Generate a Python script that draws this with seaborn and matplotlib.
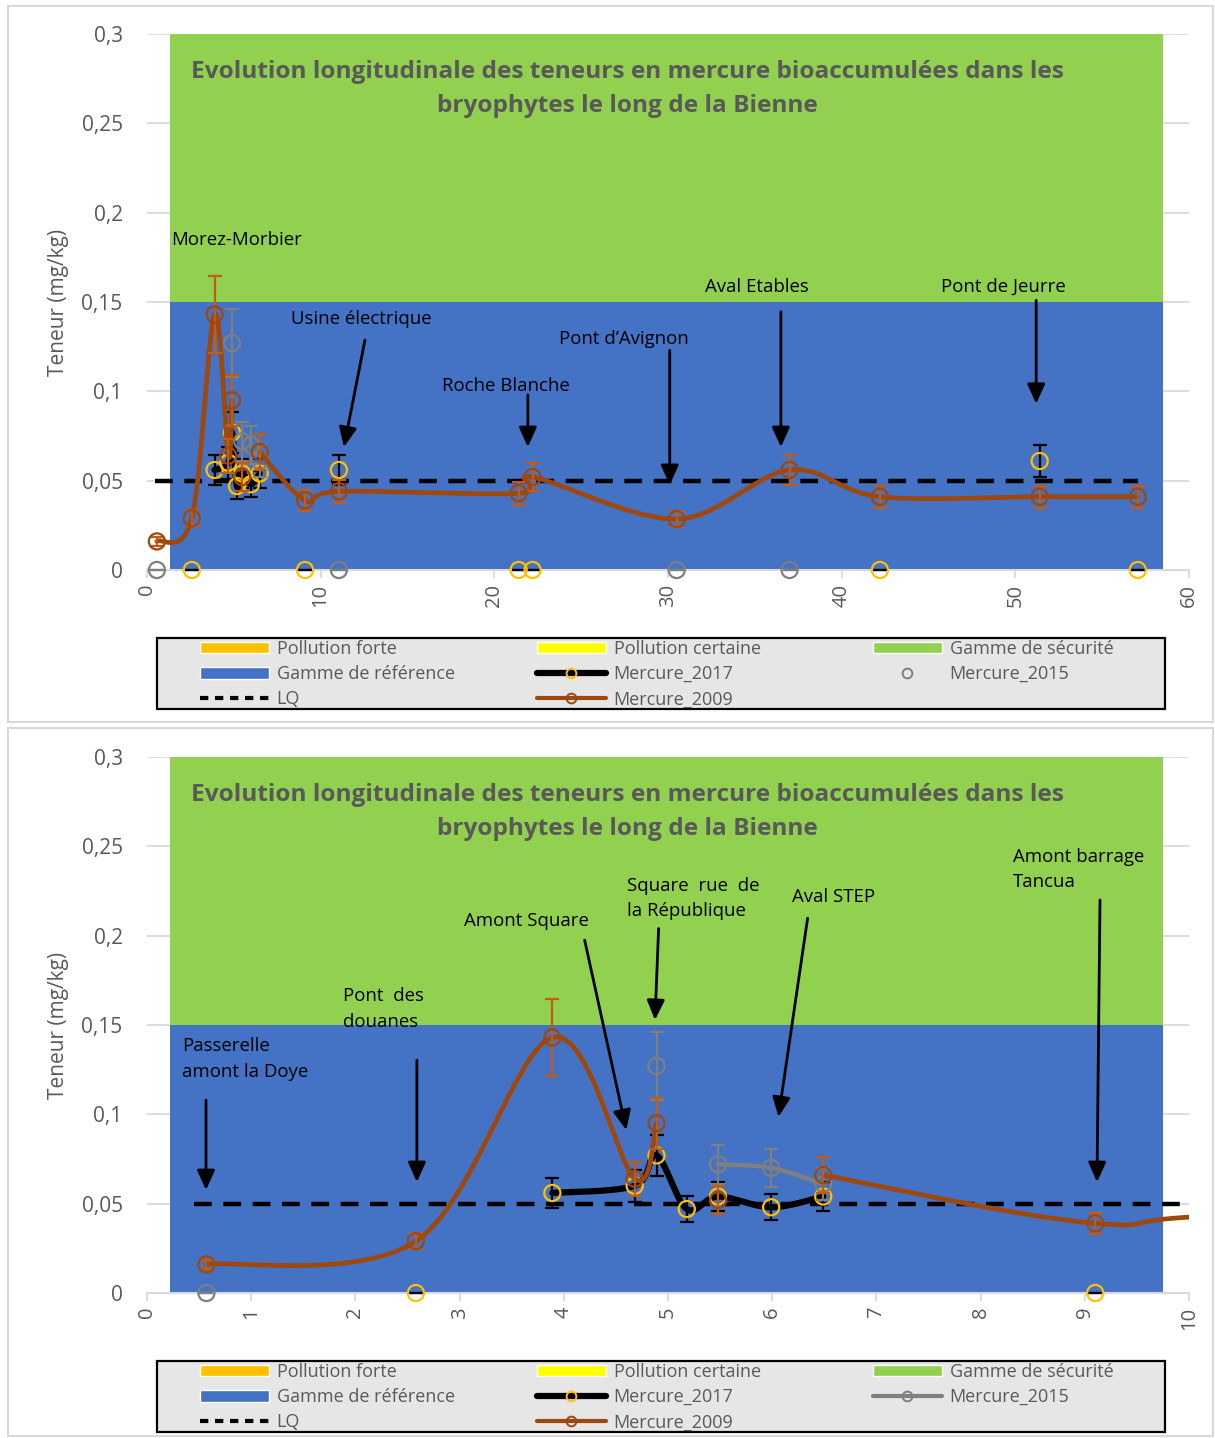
import numpy as np
import pandas as pd
import seaborn as sns
import matplotlib
matplotlib.use("Agg")
import matplotlib.pyplot as plt
import matplotlib.ticker as mticker
from matplotlib.patches import Patch, Rectangle
from matplotlib.lines import Line2D

# stations (distance, km) and mercury contents (mg/kg); nan = no sample, 0 = < LQ
STATIONS_KM = [0.57, 2.58, 3.89, 4.68, 4.89, 5.18, 5.48, 5.99, 6.49, 9.1,
               11.05, 21.4, 22.2, 30.5, 37.0, 42.2, 51.4, 57.05]
HG_2009 = [0.016, 0.029, 0.143, 0.064, 0.095, np.nan, 0.052, np.nan, 0.066, 0.039,
           0.044, 0.043, 0.052, 0.0285, 0.056, 0.041, 0.041, 0.041]
HG_2017 = [np.nan, 0, 0.056, 0.060, 0.077, 0.047, 0.054, 0.048, 0.054, 0,
           0.056, 0, 0, np.nan, np.nan, 0, 0.061, 0]
HG_2015 = [0, np.nan, np.nan, np.nan, 0.127, np.nan, 0.072, 0.070, 0.061, np.nan,
           0, np.nan, np.nan, 0, 0, np.nan, np.nan, np.nan]
ERR_FRAC = 0.15

LQ_KM = [0.45, 57.05]
LQ_VALUE = 0.05
REF_RANGE = (0.0, 0.15)
SECU_RANGE = (0.15, 0.3)

TITLE = ("Evolution longitudinale des teneurs en mercure bioaccumulées dans les\n"
         "bryophytes le long de la Bienne")

# (text, text position, arrow tail, arrow tip)
LABELS_TOP = [
    ("Morez-Morbier", (1.38, 0.1898), None, None),
    ("Usine électrique", (8.29, 0.1456), (12.55, 0.1287), (11.34, 0.0688)),
    ("Roche Blanche", (16.98, 0.1081), (21.93, 0.098), (21.93, 0.0688)),
    ("Pont d\u2019Avignon", (23.72, 0.1344), (30.1, 0.123), (30.1, 0.0476)),
    ("Aval Etables", (32.12, 0.1635), (36.5, 0.1445), (36.5, 0.0688)),
    ("Pont de Jeurre", (45.71, 0.1635), (51.2, 0.151), (51.2, 0.093)),
]
LABELS_BOTTOM = [
    ("Passerelle\namont la Doye", (0.336, 0.1431), (0.566, 0.108), (0.566, 0.0576)),
    ("Pont  des\ndouanes", (1.88, 0.1712), (2.59, 0.1304), (2.59, 0.0621)),
    ("Amont Square", (3.04, 0.2135), (4.20, 0.1975), (4.60, 0.0912)),
    ("Square  rue  de\nla République", (4.607, 0.2331), (4.91, 0.204), (4.875, 0.1528)),
    ("Aval STEP", (6.19, 0.2265), (6.34, 0.2098), (6.06, 0.0985)),
    ("Amont barrage\nTancua", (8.31, 0.2492), (9.146, 0.22), (9.117, 0.0621)),
]

BLUE = "#4472C4"
GREEN = "#92D050"
ORANGE = "#FFC000"
YELLOW = "#FFFF00"
BROWN = "#9E480E"
BROWN_ERR = "#C55A11"
GREY = "#7F7F7F"
TXT = "#595959"

W_PX, H_PX = 1042, 536


def smooth(x, y, sx, sy, n=40):
    # Excel-like smoothed line (bezier through points, computed in pixel space)
    P = np.column_stack([np.asarray(x) * sx, np.asarray(y) * sy])
    segs = []
    for i in range(len(P) - 1):
        p0 = P[i - 1] if i > 0 else P[i]
        p1, p2 = P[i], P[i + 1]
        p3 = P[i + 2] if i + 2 < len(P) else P[i + 1]
        c1 = p1 + (p2 - p0) / 6
        c2 = p2 - (p3 - p1) / 6
        t = np.linspace(0, 1, n)[:, None]
        segs.append((1 - t) ** 3 * p1 + 3 * (1 - t) ** 2 * t * c1
                    + 3 * (1 - t) * t ** 2 * c2 + t ** 3 * p2)
    seg = np.vstack(segs)
    return seg[:, 0] / sx, seg[:, 1] / sy


def draw_series(ax, df, col, line_color, line_w, mk_color, err_color, xmax, draw_line=True, z=4):
    sub = df[["km", col]].dropna()
    sx, sy = W_PX / xmax, H_PX / 0.3
    if draw_line:
        # lines break on missing values and on values below LQ (0)
        vals = df[col].where(df[col] > 0)
        run = []
        for km, v in list(zip(df["km"], vals)) + [(None, np.nan)]:
            if np.isnan(v):
                if len(run) > 1:
                    xs, ys = smooth(*zip(*run), sx, sy)
                    ax.plot(xs, ys, color=line_color, lw=line_w, zorder=z, solid_capstyle="round")
                run = []
            else:
                run.append((km, v))
    vis = sub[sub["km"] <= xmax]
    ax.errorbar(vis["km"], vis[col], yerr=ERR_FRAC * vis[col], fmt="none",
                ecolor=err_color, elinewidth=1.6, capsize=5, capthick=1.6,
                zorder=z + 0.1, clip_on=False)
    sns.scatterplot(x=vis["km"].values, y=vis[col].values, ax=ax, marker="o", s=135,
                    color=mk_color, zorder=z + 0.2, clip_on=False, legend=False)
    pts = ax.collections[-1]
    pts.set_facecolor("none")
    pts.set_edgecolor(mk_color)
    pts.set_linewidth(1.6)


def draw_chart(ax, xmax, xstep, labels, line_2015):
    ax.set_xlim(0, xmax)
    ax.set_ylim(0, 0.3)
    ax.set_axisbelow(True)
    ax.grid(axis="y", color="#D9D9D9", lw=1.3)
    ax.grid(axis="x", visible=False)
    for s in ["top", "right", "left"]:
        ax.spines[s].set_visible(False)
    ax.spines["bottom"].set_color("#D9D9D9")
    ax.spines["bottom"].set_linewidth(1.5)
    ax.set_facecolor("white")

    # background ranges
    ax.axhspan(*REF_RANGE, xmin=0.022, xmax=0.975, color=BLUE, lw=0, zorder=1)
    ax.axhspan(*SECU_RANGE, xmin=0.022, xmax=0.975, color=GREEN, lw=0, zorder=1)

    ax.plot(LQ_KM, [LQ_VALUE] * len(LQ_KM), color="black", lw=3.2, ls=(0, (4, 2.6)), zorder=3)

    df = pd.DataFrame({"km": STATIONS_KM, "2009": HG_2009, "2017": HG_2017, "2015": HG_2015})
    draw_series(ax, df, "2017", "black", 4.5, ORANGE, "black", xmax, z=4)
    draw_series(ax, df, "2015", GREY, 3.2, GREY, GREY, xmax, draw_line=line_2015, z=5)
    draw_series(ax, df, "2009", BROWN, 3.4, BROWN, BROWN_ERR, xmax, z=6)

    ax.xaxis.set_major_locator(mticker.MultipleLocator(xstep))
    ax.yaxis.set_major_locator(mticker.MultipleLocator(0.05))
    ax.yaxis.set_major_formatter(mticker.FuncFormatter(lambda v, p: f"{v:g}".replace(".", ",")))
    ax.tick_params(axis="x", rotation=90, labelsize=14.5, labelcolor=TXT, color="#D9D9D9",
                   length=6, width=1.3, pad=4, direction="out", bottom=True)
    ax.tick_params(axis="y", labelsize=15, labelcolor=TXT, length=0, pad=17.5)
    ax.set_ylabel("Teneur (mg/kg)", fontsize=15, color=TXT, labelpad=9)
    ax.set_xlabel("")

    ax.text(0.4607, 0.951, TITLE, transform=ax.transAxes, ha="center", va="top",
            fontsize=17.6, fontweight="bold", color=TXT, linespacing=1.55, zorder=8)

    for text, pos, tail, tip in labels:
        ax.text(pos[0], pos[1], text, ha="left", va="top", fontsize=13.4,
                color="black", linespacing=1.55, zorder=8)
        if tail is not None:
            ax.annotate("", xy=tip, xytext=tail, zorder=8,
                        arrowprops=dict(arrowstyle="-|>,head_length=0.6,head_width=0.27",
                                        mutation_scale=20, color="black", lw=2,
                                        shrinkA=0, shrinkB=0))

    # legend box, then one legend per column
    ax.add_patch(Rectangle(((157 - 147) / W_PX, -(638 - 570) / H_PX - 71 / H_PX),
                           1008 / W_PX, 71 / H_PX, transform=ax.transAxes, clip_on=False,
                           facecolor="#E7E6E6", edgecolor="black", lw=1.6, zorder=2))
    columns = [
        [Patch(facecolor=ORANGE, label="Pollution forte"),
         Patch(facecolor=BLUE, label="Gamme de référence"),
         Line2D([], [], color="black", lw=3, ls=(0, (2, 1.6)), label="LQ")],
        [Patch(facecolor=YELLOW, label="Pollution certaine"),
         Line2D([], [], color="black", lw=4.5, marker="o", mfc="none", mec=ORANGE,
                ms=7, mew=1.4, label="Mercure_2017"),
         Line2D([], [], color=BROWN, lw=3, marker="o", mfc="none", mec=BROWN,
                ms=7, mew=1.4, label="Mercure_2009")],
        [Patch(facecolor=GREEN, label="Gamme de sécurité"),
         Line2D([], [], color=GREY, lw=3 if line_2015 else 0, marker="o", mfc="none",
                mec=GREY, ms=7, mew=1.4, label="Mercure_2015")],
    ]
    col_x = [200, 537, 873]
    for i, (hx, hs) in enumerate(zip(col_x, columns)):
        leg = ax.legend(handles=hs, loc="upper left",
                        bbox_to_anchor=((hx - 147) / W_PX, -(640 - 570) / H_PX),
                        borderaxespad=0, borderpad=0, fontsize=13, handlelength=3.8,
                        handleheight=0.6, handletextpad=0.45, labelspacing=0.4,
                        frameon=False)
        leg.set_zorder(3)
        for t in leg.get_texts():
            t.set_color(TXT)
        if i < len(col_x) - 1:
            ax.add_artist(leg)


sns.set_theme(style="white")
plt.rcParams["font.family"] = ["Open Sans", "DejaVu Sans"]

fig = plt.figure(figsize=(12.15, 14.38), dpi=100)
ax_top = fig.add_axes([147 / 1215, 1 - 570 / 1438, W_PX / 1215, H_PX / 1438])
ax_bot = fig.add_axes([147 / 1215, 1 - 1293 / 1438, W_PX / 1215, H_PX / 1438])

draw_chart(ax_top, 60, 10, LABELS_TOP, line_2015=False)
draw_chart(ax_bot, 10, 1, LABELS_BOTTOM, line_2015=True)

# chart frames
for y0, y1 in [(6, 722), (728, 1436)]:
    fig.patches.append(Rectangle((8 / 1215, 1 - y1 / 1438), 1205 / 1215, (y1 - y0) / 1438,
                                 transform=fig.transFigure, fill=False,
                                 edgecolor="#D9D9D9", lw=1.5))

fig.savefig("out.png", dpi=100)
